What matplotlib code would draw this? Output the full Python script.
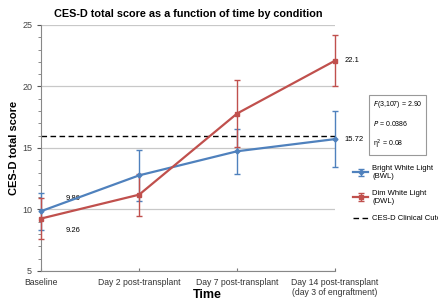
import matplotlib
matplotlib.use('Agg')
import matplotlib.pyplot as plt
from matplotlib.ticker import MultipleLocator

plt.rcParams['font.family'] = ['Liberation Sans', 'DejaVu Sans']

timepoints = ['Baseline', 'Day 2 post-transplant', 'Day 7 post-transplant',
              'Day 14 post-transplant\n(day 3 of engraftment)']
bwl_mean = [9.86, 12.77, 14.73, 15.72]
bwl_err = [1.5, 2.08, 1.85, 2.25]
dwl_mean = [9.26, 11.2, 17.8, 22.1]
dwl_err = [1.65, 1.7, 2.7, 2.1]
cutoff = 16
stats_lines = ['$F$(3,107) = 2.90', '$P$ = 0.0386', '\u03b7$^2$ = 0.08']

blue = '#4F81BD'
red = '#C0504D'

fig = plt.figure(figsize=(4.38, 3.01), dpi=100)
ax = fig.add_axes([0.094, 0.1, 0.671, 0.817])

x = list(range(len(timepoints)))

ax.axhline(cutoff, color='black', ls=(0, (4, 2.5)), lw=1.0, zorder=2,
           label='CES-D Clinical Cutoff')
ax.errorbar(x, bwl_mean, yerr=bwl_err, color=blue, lw=1.6, marker='D', ms=2.5,
            capsize=2.5, elinewidth=1.0, capthick=1.0, clip_on=False, zorder=3,
            label='Bright White Light\n(BWL)')
ax.errorbar(x, dwl_mean, yerr=dwl_err, color=red, lw=1.6, marker='s', ms=3,
            capsize=2.5, elinewidth=1.0, capthick=1.0, clip_on=False, zorder=3,
            label='Dim White Light\n(DWL)')

ax.text(0.25, bwl_mean[0] + 1.0, '%.2f' % bwl_mean[0], fontsize=5.5, va='center')
ax.text(0.25, dwl_mean[0] - 1.0, '%.2f' % dwl_mean[0], fontsize=5.5, va='center')
ax.text(3.1, dwl_mean[3], '%.1f' % dwl_mean[3], fontsize=5.5, va='center')
ax.text(3.1, bwl_mean[3], '%.2f' % bwl_mean[3], fontsize=5.5, va='center')

ax.set_xlim(0, 3)
ax.set_ylim(5, 25)
ax.yaxis.set_major_locator(MultipleLocator(5))
ax.yaxis.set_minor_locator(MultipleLocator(1))
ax.set_xticks(x)
ax.set_xticklabels(timepoints, fontsize=6.2)
ax.tick_params(axis='y', labelsize=6.5, colors='#555555', length=3, width=0.8)
ax.tick_params(axis='y', which='minor', length=2, width=0.6, colors='#777777')
ax.tick_params(axis='x', direction='in', length=2.5, colors='#777777', pad=5)
for lbl in ax.get_xticklabels():
    lbl.set_color('#333333')
for lbl in ax.get_yticklabels():
    lbl.set_color('#444444')

ax.grid(axis='y', which='major', color='#C8C8C8', lw=0.9)
ax.set_axisbelow(True)
for s in ['top', 'right']:
    ax.spines[s].set_visible(False)
ax.spines['left'].set_color('#888888')
ax.spines['bottom'].set_color('#888888')

ax.set_title('CES-D total score as a function of time by condition',
             fontsize=7.8, fontweight='bold', pad=6)
ax.set_ylabel('CES-D total score', fontsize=8, fontweight='bold', labelpad=2)
fig.text(207 / 438, 1 - 295 / 301, 'Time', fontsize=9, fontweight='bold',
         ha='center', va='center')

# stats box
fig.text(373 / 438, 1 - 125 / 301, '\n\n'.join(stats_lines), fontsize=5.0,
         va='center', ha='left', linespacing=1.2,
         bbox=dict(boxstyle='square,pad=0.55', fc='white', ec='#999999', lw=0.8))

handles, labels = ax.get_legend_handles_labels()
order = [1, 2, 0]
leg = ax.legend([handles[i] for i in order], [labels[i] for i in order],
                loc='upper left', bbox_to_anchor=(350 / 438, 1 - 162 / 301),
                bbox_transform=fig.transFigure, frameon=False, fontsize=5.5,
                handlelength=2.0, handletextpad=0.5, labelspacing=1.3,
                borderaxespad=0)

fig.savefig('out.png', dpi=100)
